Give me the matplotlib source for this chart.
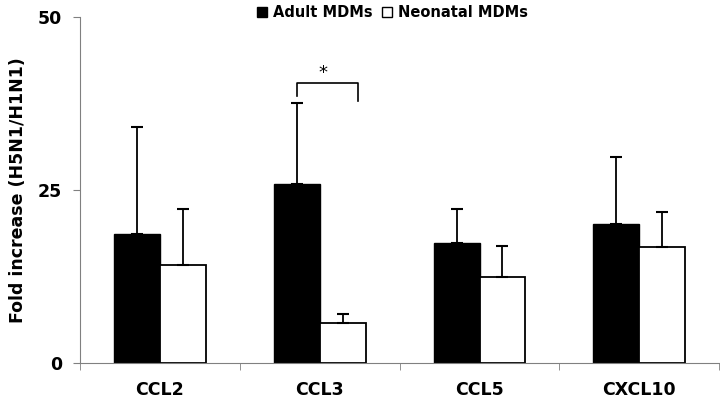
import matplotlib
matplotlib.use("Agg")
import matplotlib.pyplot as plt
from matplotlib.patches import Patch
import numpy as np

categories = ["CCL2", "CCL3", "CCL5", "CXCL10"]
adult = [18.6, 25.8, 17.4, 20.1]
adult_err = [15.5, 11.7, 4.8, 9.6]
neonatal = [14.2, 5.75, 12.5, 16.7]
neonatal_err = [8.1, 1.3, 4.45, 5.1]
y_ticks = [0, 25, 50]

fig = plt.figure(figsize=(7.2, 4.03), dpi=100)
ax = fig.add_axes([0.111, 0.099, 0.888, 0.859])

x = np.arange(len(categories))
w = 0.2875
ekw = dict(ecolor="black", elinewidth=1.3, capsize=4, capthick=1.5)
ax.bar(x - w / 2, adult, w, color="black", edgecolor="black", linewidth=1,
       yerr=[np.zeros(4), adult_err], error_kw=ekw)
ax.bar(x + w / 2, neonatal, w, color="white", edgecolor="black", linewidth=1.3,
       yerr=[np.zeros(4), neonatal_err], error_kw=ekw)

# significance bracket for CCL3
bx0 = 1 - w / 2
bx1 = 1 + 0.24
ax.plot([bx0, bx0, bx1, bx1], [38.6, 40.5, 40.5, 37.9], color="black", lw=1.2, clip_on=False)
ax.text(1.02, 40.6, "*", ha="center", va="bottom", fontsize=13)

ax.set_xlim(-0.5, 3.5)
ax.set_ylim(0, 50)
ax.set_yticks(y_ticks)
ax.set_yticklabels([str(t) for t in y_ticks], fontweight="bold", fontsize=12.5)
ax.set_xticks(x)
ax.set_xticklabels(categories, fontweight="bold", fontsize=12.5)
ax.tick_params(axis="x", length=0, pad=13)
ax.set_xticks(np.arange(-0.5, 4.0, 1.0), minor=True)
ax.tick_params(axis="x", which="minor", length=5, direction="out", color="gray")
ax.tick_params(axis="y", length=5, direction="out", color="gray", pad=8)
for s in ["top", "right"]:
    ax.spines[s].set_visible(False)
for s in ["left", "bottom"]:
    ax.spines[s].set_color("gray")
ax.set_ylabel("Fold increase (H5N1/H1N1)", fontweight="bold", fontsize=12.5, labelpad=8)

handles = [Patch(facecolor="black", edgecolor="black"),
           Patch(facecolor="white", edgecolor="black")]
fig.legend(handles, ["Adult MDMs", "Neonatal MDMs"], loc="upper center",
           bbox_to_anchor=(0.545, 1.02), ncol=2, frameon=False,
           prop=dict(weight="bold", size=10.5), handlelength=0.7, handleheight=0.7,
           handletextpad=0.4, columnspacing=0.6)

fig.savefig("out.png", dpi=100)
